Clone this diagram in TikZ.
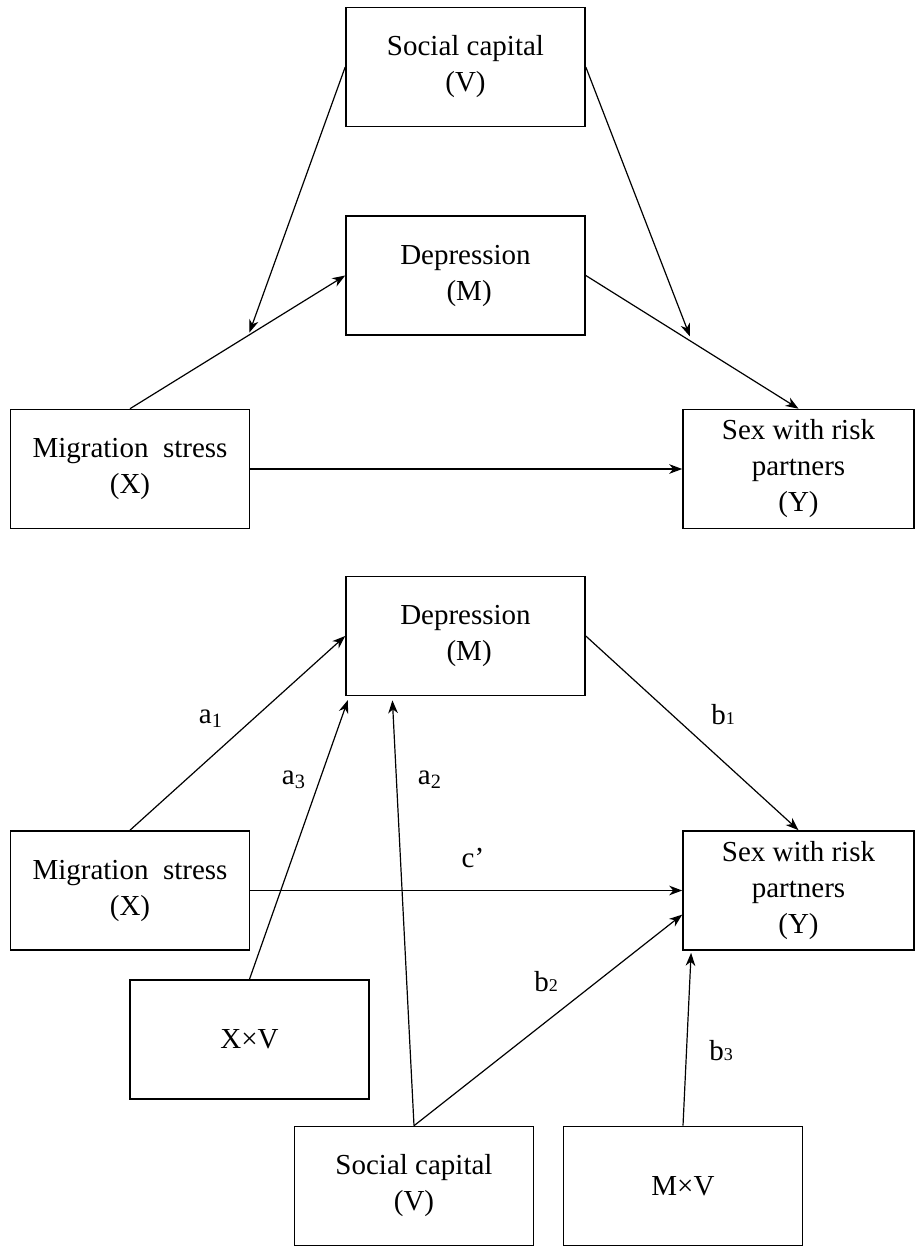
\documentclass[tikz,border=0pt]{standalone}
\usepackage{fontspec}
\setmainfont{Liberation Serif}
\usetikzlibrary{calc, positioning}
\usetikzlibrary{arrows.meta}
\newcommand{\lowdig}[1]{{\fontsize{9}{9}\selectfont #1}}

\begin{document}
\begin{tikzpicture}[x=0.5pt, y=-0.5pt,
  box/.style={draw, line width=0.8pt, align=center, inner sep=0pt,
    minimum width=119.5pt, minimum height=59.5pt,
    font=\fontsize{14.5}{18}\selectfont},
  arr/.style={line width=0.6pt, -{Stealth[length=6.5pt, width=4.8pt, inset=2pt]}},
  lab/.style={font=\fontsize{14.5}{18}\selectfont, inner sep=0pt}]
\useasboundingbox (0,0) rectangle (916,1247);
\node[box] (V1) at (465.5,67) {Social capital\\(V)};
\node[box] (M1) at (465.5,275.5) {Depression\\\ (M)};
\node[box] (X1) at (130,469) {Migration\ \ stress\\(X)};
\node[box, minimum width=115.5pt] (Y1) at (798.5,469) {Sex with risk\\partners\\(Y)};
\coordinate (k1) at ($(X1.north)!0.55!(M1.west)$);
\coordinate (k2) at ($(M1.east)!0.5!(Y1.north)$);
\draw[arr] (X1.north) -- (M1.west);
\draw[arr] (M1.east) -- (Y1.north);
\draw[arr] (X1.east) -- (Y1.west);
\draw[arr, shorten >=1.5pt] (V1.west) -- (k1);
\draw[arr, shorten >=3pt] (V1.east) -- (k2);
\node[box] (M2) at (465.5,636) {Depression\\\ (M)};
\node[box] (X2) at (130,890.5) {Migration\ \ stress\\(X)};
\node[box, minimum width=115.5pt] (Y2) at (798.5,890.5) {Sex with risk\\partners\\(Y)};
\node[box] (XV) at (249.5,1039.5) {X×V};
\node[box] (V2) at (414,1186) {Social capital\\(V)};
\node[box] (MV) at (683,1186) {M×V};
\coordinate (m3) at ($(M2.south west)+(4,0)$);
\coordinate (m2) at ($(M2.south west)+(47,0)$);
\coordinate (y2) at ($(Y2.south west)!0.3!(Y2.north west)$);
\coordinate (y3) at ($(Y2.south west)+(9,0)$);
\draw[arr] (X2.north) -- (M2.west);
\draw[arr] (M2.east) -- (Y2.north);
\draw[arr] (X2.east) -- (Y2.west);
\draw[arr, shorten >=2pt] (XV.north) -- (m3);
\draw[arr, shorten >=2pt] (V2.north) -- (m2);
\draw[arr] (V2.north) -- (y2);
\draw[arr, shorten >=1pt] (MV.north) -- (y3);
\node[lab] (a1) at (211,719) {a\textsubscript{1}};
\node[lab] (a3) at (294,780) {a\textsubscript{3}};
\node[lab] (a2) at (430,780) {a\textsubscript{2}};
\node[lab] (b1) at (723,715) {b\lowdig{1}};
\node[lab] (c) at (473,858) {c’};
\node[lab] (b2) at (546,982) {b\lowdig{2}};
\node[lab] (b3) at (721,1051) {b\lowdig{3}};
\end{tikzpicture}
\end{document}
